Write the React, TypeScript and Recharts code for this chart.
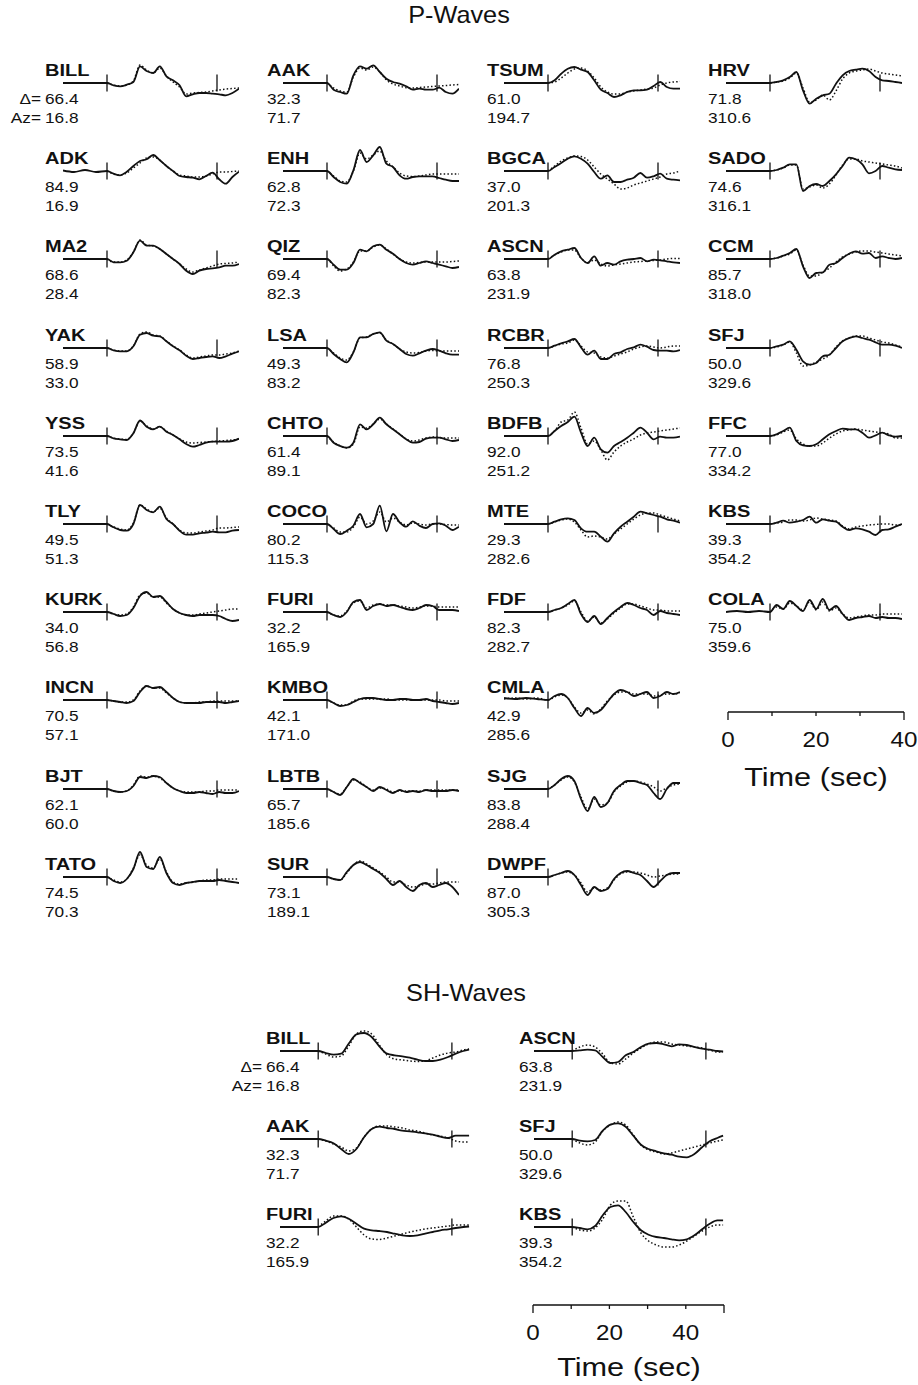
import { LineChart, Line, XAxis, YAxis, ReferenceLine } from "recharts";

const FONT = '"Liberation Sans", Arial, Helvetica, sans-serif';
const INK = "#111";
const N = null;

// sample times (s): pre-event samples, then the fitted window
const P_T = [-10, -7.5, -5, -2.5, 0, 1.5, 3, 4.5, 6, 7.5, 9, 10.5, 12, 13.5, 15, 16.5, 18, 19.5, 21, 22.5, 24, 25.5, 27, 28.5, 30];
const SH_T = [-10, -5, 0, 2, 4, 6, 8, 10, 12, 14, 16, 18, 20, 22, 24, 26, 28, 30, 32, 34, 36, 38, 39.5];

// window marks (s)
const P_MARKS = [0, 25];
const SH_MARKS = [0, 35];

// ---- P stations (column by column) ----
const P_NAMES = [
  "BILL", "ADK", "MA2", "YAK", "YSS", "TLY", "KURK", "INCN", "BJT", "TATO",
  "AAK", "ENH", "QIZ", "LSA", "CHTO", "COCO", "FURI", "KMBO", "LBTB", "SUR",
  "TSUM", "BGCA", "ASCN", "RCBR", "BDFB", "MTE", "FDF", "CMLA", "SJG", "DWPF",
  "HRV", "SADO", "CCM", "SFJ", "FFC", "KBS", "COLA",
];
const P_DIST = [
  66.4, 84.9, 68.6, 58.9, 73.5, 49.5, 34.0, 70.5, 62.1, 74.5,
  32.3, 62.8, 69.4, 49.3, 61.4, 80.2, 32.2, 42.1, 65.7, 73.1,
  61.0, 37.0, 63.8, 76.8, 92.0, 29.3, 82.3, 42.9, 83.8, 87.0,
  71.8, 74.6, 85.7, 50.0, 77.0, 39.3, 75.0,
];
const P_AZ = [
  16.8, 16.9, 28.4, 33.0, 41.6, 51.3, 56.8, 57.1, 60.0, 70.3,
  71.7, 72.3, 82.3, 83.2, 89.1, 115.3, 165.9, 171.0, 185.6, 189.1,
  194.7, 201.3, 231.9, 250.3, 251.2, 282.6, 282.7, 285.6, 288.4, 305.3,
  310.6, 316.1, 318.0, 329.6, 334.2, 354.2, 359.6,
];

// observed (solid) and synthetic (dotted) P traces
const pBILL = [0, 0, 0, 0, 0, -2.3, -3.3, -1.7, 1, 16.7, 12, 10, 16.7, 6.7, 2.7, -2.3, -13.3, -11.3, -10, -10, -10.7, -11.3, -12.3, -10, -5.7];
const sBILL = [N, N, N, N, 0, -2, -3, -2, 2, 18, 13, 10, 15, 7, 1, -4, -11, -10, -9.5, -9, -8, -7, -6, -5.5, -5];
const pADK = [0.5, -1, 1, -1, 0, -2.7, -4.3, -0.7, 5, 10, 11.7, 16, 10.7, 5, 0, -5, -6, -6.7, -8.3, -5, -1.7, -8.3, -12.7, -6, -0.7];
const sADK = [N, N, N, N, 0, -3, -4, -2, 3, 8, 13, 14, 11, 5, 0, -4, -5, -6, -6, -5, -3, -1, -1, -0.5, 0];
const pMA2 = [0, 0, 0, 0, 0, -3.3, -3.3, -1.7, 6.7, 18.3, 13.3, 13.3, 10, 5, 0, -5, -11.7, -15, -11.7, -10, -9.3, -8.3, -6.7, -6.7, -5];
const sMA2 = [N, N, N, N, 0, -3, -3, -1, 7, 19, 14, 13, 10, 5, 0, -5, -10, -13, -11, -9, -7, -5, -4.5, -4, -3];
const pYAK = [0, 0, 0, 0, 0, -2.3, -3.3, -3.3, 1.7, 13.3, 15, 12.3, 11.7, 6.7, 1.7, -2.3, -7.7, -11, -10, -9, -8.3, -10, -8.3, -5.7, -3.3];
const sYAK = [N, N, N, N, 0, -2, -3, -3, 2, 14, 16, 13, 12, 7, 2, -2, -7, -10, -9, -8, -7, -7, -6, -5, -3];
const pYSS = [0, 0, 0, 0, 0, -2.3, -3.3, -4, 2.7, 15.5, 9.3, 6.7, 9.3, 4.3, 1, -3.3, -8, -10.7, -9, -6.7, -5.7, -5.7, -5.7, -5, -2.7];
const sYSS = [N, N, N, N, 0, -2, -3, -3.5, 3, 15, 10, 7, 9, 5, 1, -3, -6, -7, -6.5, -6, -5.5, -5, -4.5, -4, -3];
const pTLY = [0, 0, 0, 0, 0, -3.3, -6, -6.7, 0, 19, 14, 11.7, 17.3, 5, 0, -6.7, -10.7, -10.7, -9.3, -8.7, -7.7, -8.3, -8.3, -6.7, -6];
const sTLY = [N, N, N, N, 0, -3, -5, -6, 1, 19, 15, 12, 16, 6, 0, -6, -9, -9, -8, -7, -6, -4, -4, -3.5, -3];
const pKURK = [0, 0, 0, 0, 0, -2, -4, -3, 4, 16, 20, 15, 16, 10, 3, -1, -3, -4, -3, -3, -3, -4, -7, -9, -8];
const sKURK = [N, N, N, N, 0, -2, -3, -2, 5, 17, 19, 15, 15, 9, 3, -1, -3, -3, -2, -1, 0, 1, 2, 3, 3];
const pINCN = [0, 0, 0, 0, 0, -1, -2, -3, -1, 8, 14, 12, 13, 8, 2, -2, -3, -3, -3, -2, -2, -2, -3, -2, -1];
const sINCN = [N, N, N, N, 0, -1, -2, -2, 0, 9, 14, 12, 12, 7, 2, -2, -3, -3, -2, -2, -1, -1, -1, -1, -1];
const pBJT = [0, 0, 0, 0, 0, -2, -3, -2, 3, 12, 11, 13, 12, 6, 1, -2, -4, -4, -3, -4, -5, -3, -4, -4, -2];
const sBJT = [N, N, N, N, 0, -2, -3, -2, 4, 13, 12, 13, 11, 6, 1, -2, -3, -3, -3, -2, -2, -1, -1, -1, -1];
const pTATO = [0, 0, 0, 0, 0, -4, -6, -2, 8, 25, 10, 8, 20, 4, -6, -8, -6, -5, -4, -4, -4, -3, -4, -5, -6];
const sTATO = [N, N, N, N, 0, -3, -5, -2, 9, 22, 12, 9, 18, 5, -5, -7, -6, -5, -4, -3, -3, -2, -2, -2, -2];

const pAAK = [0, 0, 0, 0, 0, -6.7, -9, -10.7, 7.7, 16.7, 14.3, 17.7, 11, 4.3, 1, -0.7, -3.3, -6.7, -5.7, -6.7, -6.7, -4.7, -9, -10.7, -5.7];
const sAAK = [N, N, N, N, 0, -5, -8, -9, 6, 15, 13, 16, 11, 3, -1, -3, -4.7, -5, -4.5, -4, -3.5, -3, -2.5, -2, -1.5];
const pENH = [0, 0, 0, 0, 0, -6, -11, -12.7, 0.7, 21, 9, 15.7, 24, 7.3, 4, -4.3, -7.7, -6, -5.3, -5.3, -5.3, -7, -8.7, -10, -10];
const sENH = [N, N, N, N, 0, -5, -10, -11, 0, 18, 12, 16, 20, 10, 4, -2, -5, -5.5, -5, -4, -3, -3, -3, -3, -3];
const pQIZ = [0, 0, 0, 0, 0, -5.7, -10.7, -10.7, -4, 9.3, 7.7, 12.7, 14.3, 9.3, 5.3, 0, -4, -5.7, -4, -2.3, -4, -5.7, -7.3, -9, -8];
const sQIZ = [0, 0, 0, 0, 0, -7, -12, -10, -3, 8, 8, 12, 14, 10, 5, 0, -3, -4, -3.5, -3, -3, -3, -3, -2.5, -2];
const pLSA = [0, 0, 0, 0, 0, -6, -11, -14.3, -4.3, 10.7, 10.7, 14, 15.7, 7.3, 4, -1, -6, -7.7, -5.3, -2.7, -1, -2.7, -5.3, -6.7, -6.7];
const sLSA = [N, N, N, N, 0, -5, -10, -12, -4, 10, 11, 14, 15, 8, 4, -1, -4, -5, -4.5, -3, -2.5, -3, -3, -3, -3];
const pCHTO = [0, 0, 0, 0, 0, -6.7, -10, -11.7, -6.7, 11.7, 6.7, 11.7, 18.3, 11.7, 6.7, 1.7, -3.3, -6.7, -6, -2.7, -1.7, -1.7, -3.3, -5, -4];
const sCHTO = [N, N, N, N, 0, -6, -10, -12, -8, 9, 8, 12, 17, 12, 7, 2, -3, -5, -4, -2, -1, -1.5, -2, -2, -2];
const pCOCO = [0, 0, 0, 0, 0, -5, -10, -6.7, -1.7, 10, -3.3, 0, 18.3, -7.3, 10, 1.7, -2.7, 2.7, -1.7, -4, 0, 0.7, -1.7, -6, -2.7];
const sCOCO = [N, N, N, N, 0, -4, -8, -8, -3, 7, 0, 3, 12, 2, 6, 2, -1, 1, 0, -1, 0, 0, -0.5, -1, -1];
const pFURI = [0, 0, 0, 0, 0, -3, -5, 0, 10, 12, 2, 6, 8, 6, 7, 5, 3, 2, 4, 7, 6, 2, 2, 2, 1];
const sFURI = [N, N, N, N, 0, -3, -4, 1, 9, 11, 4, 7, 8, 7, 7, 6, 5, 4, 5, 6, 6, 5, 5, 5, 5];
const pKMBO = [0, 0, 0, 0, 0, -3, -6, -5, -2, 1, 2, 2, 1, 0, 0, 1, 1, 0, 0, 1, -1, -2, -3, -4, -3];
const sKMBO = [N, N, N, N, 0, -3, -5, -5, -1, 1, 1, 1, 1, 1, 0, 0, 0, 0, 0, 0, 0, 0, -1, -1, -1];
const pLBTB = [0, 0, 0, 0, 0, -3, -6, 2, 10, 6, 2, -2, 2, -1, -4, -1, -3, -2, -3, -1, -2, -2, -2, -1, -2];
const sLBTB = [N, N, N, N, 0, -3, -5, 2, 9, 7, 2, -1, 1, 0, -3, -2, -2, -2, -2, -1, -1, -1, -1, -1, -1];
const pSUR = [0, 0, 0, 0, 0, -2, -3, 5, 12, 15, 12, 8, 4, -2, -8, -4, -10, -14, -8, -6, -10, -8, -6, -10, -18];
const sSUR = [N, N, N, N, 0, -2, -3, 4, 12, 16, 13, 9, 5, 0, -5, -5, -8, -10, -9, -7, -7, -6, -5, -5, -5];

const pTSUM = [0, 0, 0, 0, 0, 2.7, 9.3, 14.3, 16, 13.3, 11, 2.7, -6.7, -10, -14, -12.3, -9, -7.3, -7.3, -6.7, -3, 1, -4, -5.7, -5.7];
const sTSUM = [N, N, N, N, 0, 1, 5, 10, 14, 15, 12, 5, -4, -9, -11, -11, -9, -8, -7, -6, -5, -2, 0, 1, 1.5];
const pBGCA = [0, 0, 0, 0, 0, 4, 8, 12.3, 14.7, 12.3, 7.3, -1, -7.7, -4.3, -11, -11, -8.7, -6.7, -2, -6.7, -5.3, -2.7, -7.7, -8.7, -9.3];
const sBGCA = [N, N, N, N, 0, 5, 10, 13, 15, 14.5, 11, 4, -3, -8, -13, -18, -17, -14, -12, -10, -8, -6, -3, -2, 0];
const pASCN = [0, 0, 0, 0, 0, 4.3, 7.7, 9.3, 11, 1, -4, 2.7, -6.7, -4, -5.7, -2.3, -0.7, 0, 1, -2.3, -0.7, -1.3, -2.3, -3.3, -4];
const sASCN = [N, N, N, N, 0, 4, 7, 9, 9, 1, -4, -1, -5, -7, -6, -5, -4, -3, -2.5, -2, -1.5, -1, 0, 0.5, 0.5];
const pRCBR = [0, 0, 0, 0, 0, 2.3, 4.7, 6.7, 9, 0.7, -6.7, -2.7, -11, -11, -6, -4.3, -1, 0.7, 3.3, 1.3, -2, -2.7, -2.7, -3.3, -2];
const sRCBR = [N, N, N, N, 0, 2, 4, 5, 8, 2, -4, -5, -9, -10, -8, -6, -4, -1, 1, 2, 1, 0, 1, 2, 2];
const pBDFB = [0, 0, 0, 0, 0, 5, 10, 14, 19.3, 3.3, -10, -1.7, -13.3, -16.7, -10, -6, -1.7, 3.3, 8.3, 3.3, -3.3, -0.7, -1.7, -1.7, -0.7];
const sBDFB = [N, N, N, N, 0, 5, 14, 16, 24, 8, -8, -5, -14, -24, -16, -10, -6, -3, 1, 3, 4, 5, 6, 7, 8];
const pMTE = [0, 0, 0, 0, 0, 2.3, 4.7, 5.7, 4, -4.3, -7.7, -7.7, -12.7, -17.7, -9.3, -2.7, 2.3, 7.3, 12.3, 10.7, 9, 7.3, 4.7, 3.3, 1.3];
const sMTE = [N, N, N, N, 0, 2, 4, 5, 2, -6, -13, -12, -13, -15, -10, -5, 0, 5, 9, 11, 11, 9, 7, 5, 3];
const pFDF = [0, 0, 0, 0, 0, 2, 4, 8, 12, -2, -10, -4, -12, -6, 0, 5, 9, 7, 4, 2, -3, 1, -1, -2, -3];
const sFDF = [N, N, N, N, 0, 2, 4, 7, 11, 0, -9, -5, -11, -7, -1, 4, 8, 8, 6, 4, 2, 2, 1, 1, 1];
const pCMLA = [2, 1, 2, 1, 0, 4, 6, 2, -8, -16, -8, -13, -10, -2, 6, 10, 8, 4, 6, 8, 2, 4, 8, 6, 8];
const sCMLA = [1, 2, 1, 2, 0, 3, 5, 2, -7, -13, -10, -14, -9, -1, 5, 8, 8, 6, 6, 6, 4, 5, 6, 6, 7];
const pSJG = [0, 0, 0, 0, 0, 4, 10, 13, 8, -10, -22, -8, -18, -14, -2, 4, 8, 8, 6, 4, -4, -10, 0, 6, 6];
const sSJG = [N, N, N, N, 0, 4, 9, 12, 7, -8, -20, -10, -16, -14, -3, 3, 7, 8, 7, 5, 2, -2, 1, 4, 5];
const pDWPF = [0, 0, 0, 0, 0, 2, 4, 6, 2, -8, -18, -10, -14, -12, -2, 4, 6, 4, 2, -4, -10, -4, 2, 4, 4];
const sDWPF = [N, N, N, N, 0, 2, 4, 5, 2, -6, -15, -11, -13, -11, -3, 3, 5, 5, 4, 2, 0, 1, 2, 3, 3];

const pHRV = [0, 0, 0, 0, 0, 1, 2.7, 6, 11, -7.3, -20.7, -15.7, -12.3, -10.7, -0.7, 7.7, 12, 13.3, 14.3, 12, 6, 2.7, 2, 1, 0];
const sHRV = [0, 0, 0, 0, 0, 1, 2, 5, 10, -5, -19, -17, -12, -17, -8, 4, 10, 12, 13, 14, 12, 10, 9, 8, 7];
const pSADO = [0, 0, 0, 0, 0, 1, 3.3, 6.7, 6.7, -20, -15, -13, -15, -10, -3.3, 5, 13.3, 11.7, 6.7, -2.3, 0, 5, 3.3, 1.7, 1];
const sSADO = [N, N, N, N, 0, 1, 3, 6, 6, -18, -16, -14, -17, -13, -4, 6, 12, 12, 10, 9, 8, 7, 6, 5, 3];
const pCCM = [0, 0, 0, 0, 0, 1, 3.3, 6, 10, -7.3, -19, -14, -13.3, -5.7, -4, 1, 5.3, 7.7, 5.3, 6, 1, 2.7, 1, 0, 1];
const sCCM = [N, N, N, N, 0, 1, 3, 5, 9, -6, -17, -17, -13, -9, -3, 2, 5, 7, 8, 8, 7, 6, 5, 4, 3];
const pSFJ = [0, 0, 0, 0, 0, 1.7, 3.3, 6.7, -1.7, -13.3, -16.7, -15, -8.3, -6.7, 0, 6.7, 10, 11.7, 10, 8.3, 5.7, 3.3, 3.3, 2.3, 0];
const sSFJ = [N, N, N, N, 0, 1, 3, 6, -5, -18, -17, -14, -11, -7, 1, 7, 10, 12, 12, 10, 8, 6, 5, 3, 1];
const pFFC = [0, 0, 0, 0, 0, 1.7, 5, 8.3, -5, -9.3, -10, -8.3, -3.3, 1.7, 5, 7.3, 6.7, 6.7, 3.3, -1.7, 0.7, 3.3, 0.7, -0.7, 0];
const sFFC = [N, N, N, N, 0, 1, 4, 6, -3, -8, -10, -10, -7, -2, 2, 5, 6, 7, 6, 5, 4, 3, 2, -2, -2];
const pKBS = [0, 0, 0, 0, 0, 1.3, 3.3, 1.3, 2.3, 4, 7.3, 1.3, 4.7, 3.3, 2.3, -2.7, -6, -4.3, -5.3, -7.7, -11, -6, -5.3, -2.7, 0];
const sKBS = [N, N, N, N, 0, 1, 2, 4, 4, 3, 4, 6, 5, 4, 3, -2, -5, -3, -2, -1, -0.5, 0, 0, -1, -1];
const pCOLA = [0, 1, 0, 1, 0, 7, 3, 11, 6, 1, 12, 3, 13, 2, 6, -2, -8, -6, -5, -4, -6, -5, -6, -6, -7];
const sCOLA = [N, N, N, N, 0, 5, 3, 9, 6, 2, 10, 2, 10, 1, 4, -2, -6, -5, -4, -3, -3, -2, -2, -2, -2];

const P_OBS = [
  pBILL, pADK, pMA2, pYAK, pYSS, pTLY, pKURK, pINCN, pBJT, pTATO,
  pAAK, pENH, pQIZ, pLSA, pCHTO, pCOCO, pFURI, pKMBO, pLBTB, pSUR,
  pTSUM, pBGCA, pASCN, pRCBR, pBDFB, pMTE, pFDF, pCMLA, pSJG, pDWPF,
  pHRV, pSADO, pCCM, pSFJ, pFFC, pKBS, pCOLA,
];
const P_SYN = [
  sBILL, sADK, sMA2, sYAK, sYSS, sTLY, sKURK, sINCN, sBJT, sTATO,
  sAAK, sENH, sQIZ, sLSA, sCHTO, sCOCO, sFURI, sKMBO, sLBTB, sSUR,
  sTSUM, sBGCA, sASCN, sRCBR, sBDFB, sMTE, sFDF, sCMLA, sSJG, sDWPF,
  sHRV, sSADO, sCCM, sSFJ, sFFC, sKBS, sCOLA,
];

// ---- SH stations ----
const SH_NAMES = ["BILL", "AAK", "FURI", "ASCN", "SFJ", "KBS"];
const SH_DIST = [66.4, 32.3, 32.2, 63.8, 50.0, 39.3];
const SH_AZ = [16.8, 71.7, 165.9, 231.9, 329.6, 354.2];

const hBILL = [0, 0, 0, -2, -3.7, -2.7, 7.5, 16.7, 18, 14, 4.7, -2.7, -4.3, -5.3, -6.7, -8.7, -10, -10, -8.7, -6, -2.7, 0, 1.3];
const hsBILL = [N, N, 0, -3, -6, -5, 5, 17, 20, 17, 6, -4, -8, -9, -10, -10.5, -10, -7, -4, -2, -1, 1, 2];
const hAAK = [0, 0, 0, -1.7, -4.3, -10, -15, -10, 1.7, 10, 12.3, 11, 10, 8.3, 7.7, 6.7, 5.7, 4.3, 2.3, 1, 3.3, 3.3, 3.3];
const hsAAK = [N, N, 0, -2, -5, -8, -12, -9, 2, 10, 13, 13, 12, 11, 9, 8, 6, 4, 3, 1, -2, -3, -3];
const hFURI = [0, 0, 0, 4.3, 9, 10.7, 8.3, 3.3, -1.7, -3.3, -4, -5, -6.7, -8.3, -9, -8.3, -6.7, -5, -3.3, -2.3, -1, 0, 0.5];
const hsFURI = [N, N, 0, 6, 11, 11, 8, 0, -8, -12, -12.5, -11, -9, -7, -5, -3.5, -2, -1, 0, 1, 2, 2, 2];
const hASCN = [0, 0, 0, 0.7, 1.3, 0.7, -6, -12, -11, -4.3, -1, 4, 7.3, 8, 6.7, 4.7, 6.7, 6, 4, 2.3, 1.3, 0, -0.5];
const hsASCN = [N, N, 0, 4, 6, 4, -3, -12, -13, -8, -2, 3, 7, 9, 9, 7, 6, 5, 4, 3, 1, -1, -1];
const hSFJ = [0, 0, 0, -1.7, -2.3, -1, 8.3, 14.3, 15.7, 12.3, 3.3, -5.7, -10, -12.3, -14.3, -15.7, -17.7, -18.3, -15, -8.3, -2.3, 1, 3.3];
const hsSFJ = [N, N, 0, -4, -6, -3, 8, 14, 17, 14, 4, -6, -11, -13, -15, -14, -12, -10, -8, -6, -4, -2, -1];
const hKBS = [0, 0, 0, -1, -2.3, 1, 11.7, 20, 21.7, 15, 5, -3.3, -7.7, -10, -11, -12.3, -13.3, -12.3, -8.3, -2.3, 3.3, 6.7, 6.7];
const hsKBS = [N, N, 0, -3, -4, -1, 8, 22, 26, 26, 10, -6, -14, -18, -20, -20, -18, -14, -9, -4, 0, 2, 2];

const SH_OBS = [hBILL, hAAK, hFURI, hASCN, hSFJ, hKBS];
const SH_SYN = [hsBILL, hsAAK, hsFURI, hsASCN, hsSFJ, hsKBS];

// ---- layout ----
const P_PPS = 4.4;
const P_MARK_X = [107, 327, 548, 770];
const P_LABEL_X = [45, 267, 487, 708];
const P_ROW_Y = [83, 171, 259, 348, 436, 524, 612, 700, 789, 877];

const SH_PPS = 3.82;
const SH_MARK_X = [318, 572];
const SH_LABEL_X = [266, 519];
const SH_ROW_Y = [1051, 1139, 1227];

const NAME_SX = 1.25;
const NUM_SX = 1.15;

type Val = number | null;

function Trace({ times, obs, syn, x0, y0, pps, domain, marks }: {
  times: number[]; obs: Val[]; syn: Val[]; x0: number; y0: number; pps: number;
  domain: [number, number]; marks: number[];
}) {
  const H = 70;
  const data = times.map((t, i) => ({ t, obs: obs[i], syn: syn[i] }));
  const width = (domain[1] - domain[0]) * pps;
  return (
    <div style={{ position: "absolute", left: x0 + domain[0] * pps, top: y0 - H / 2 }}>
      <LineChart width={width} height={H} data={data} margin={{ top: 0, right: 0, bottom: 0, left: 0 }}>
        <XAxis dataKey="t" type="number" domain={domain} hide allowDataOverflow />
        <YAxis type="number" domain={[-H / 2, H / 2]} hide allowDataOverflow />
        {marks.map((m) => (
          <ReferenceLine key={m} segment={[{ x: m, y: -8.5 }, { x: m, y: 8.5 }]} stroke={INK} strokeWidth={1.3} />
        ))}
        <Line dataKey="syn" type="monotone" stroke={INK} strokeWidth={1.5} strokeDasharray="1.5 2.2" dot={false} isAnimationActive={false} />
        <Line dataKey="obs" type="monotone" stroke={INK} strokeWidth={1.8} dot={false} isAnimationActive={false} />
      </LineChart>
    </div>
  );
}

function Label({ name, dist, az, x, y, prefix }: { name: string; dist: number; az: number; x: number; y: number; prefix?: boolean }) {
  return (
    <g fill={INK}>
      <text transform={`translate(${x},${y - 7}) scale(${NAME_SX},1)`} fontSize={16} fontWeight="bold">{name}</text>
      <text transform={`translate(${x},${y + 21}) scale(${NUM_SX},1)`} fontSize={15}>{dist.toFixed(1)}</text>
      <text transform={`translate(${x},${y + 40}) scale(${NUM_SX},1)`} fontSize={15}>{az.toFixed(1)}</text>
      {prefix && (
        <>
          <text transform={`translate(${x - 4},${y + 21}) scale(${NUM_SX},1)`} fontSize={15} textAnchor="end">Δ=</text>
          <text transform={`translate(${x - 4},${y + 40}) scale(${NUM_SX},1)`} fontSize={15} textAnchor="end">Az=</text>
        </>
      )}
    </g>
  );
}

function ScaleBar({ x0, y0, pps, max, ticks, labels }: {
  x0: number; y0: number; pps: number; max: number; ticks: number[]; labels: number[];
}) {
  const pad = 20;
  const data = [{ t: 0, v: 0 }, { t: max, v: 0 }];
  const renderTick = (p: any) => {
    const v = p.payload.value;
    const end = v === 0 || v === max;
    return (
      <g>
        <line x1={p.x} x2={p.x} y1={p.y} y2={p.y + (end ? 8 : 4)} stroke={INK} strokeWidth={1.3} />
        {labels.includes(v) && (
          <text transform={`translate(${p.x},${p.y + 35}) scale(1.1,1)`} textAnchor="middle" fontSize={22} fill={INK}>{v}</text>
        )}
      </g>
    );
  };
  return (
    <div style={{ position: "absolute", left: x0 - pad, top: y0 - 2 }}>
      <LineChart width={max * pps + 2 * pad} height={50} data={data} margin={{ top: 0, right: pad, bottom: 0, left: pad }}>
        <XAxis dataKey="t" type="number" domain={[0, max]} ticks={ticks} interval={0} height={48}
          tickSize={0} tickMargin={0} tickLine={false} axisLine={{ stroke: INK, strokeWidth: 1.5 }} tick={renderTick} />
        <YAxis hide domain={[0, 1]} />
        <Line dataKey="v" stroke="none" dot={false} isAnimationActive={false} />
      </LineChart>
    </div>
  );
}

export default function App() {
  return (
    <div style={{ position: "absolute", left: 0, top: 0, width: 918, height: 1385, background: "#fff", fontFamily: FONT }}>
      <svg width={918} height={1385} style={{ position: "absolute", left: 0, top: 0, fontFamily: FONT }}>
        <text transform="translate(459,23) scale(1.1,1)" textAnchor="middle" fontSize={23} fill={INK}>P-Waves</text>
        <text transform="translate(466,1001) scale(1.1,1)" textAnchor="middle" fontSize={23} fill={INK}>SH-Waves</text>
        {P_NAMES.map((n, i) => (
          <Label key={"p" + n} name={n} dist={P_DIST[i]} az={P_AZ[i]}
            x={P_LABEL_X[Math.floor(i / 10)]} y={P_ROW_Y[i % 10]} prefix={i === 0} />
        ))}
        {SH_NAMES.map((n, i) => (
          <Label key={"s" + n} name={n} dist={SH_DIST[i]} az={SH_AZ[i]}
            x={SH_LABEL_X[Math.floor(i / 3)]} y={SH_ROW_Y[i % 3]} prefix={i === 0} />
        ))}
        <text transform="translate(816,786) scale(1.18,1)" textAnchor="middle" fontSize={26} fill={INK}>Time (sec)</text>
        <text transform="translate(629,1376) scale(1.18,1)" textAnchor="middle" fontSize={26} fill={INK}>Time (sec)</text>
      </svg>
      {P_NAMES.map((n, i) => (
        <Trace key={"pt" + n} times={P_T} obs={P_OBS[i]} syn={P_SYN[i]}
          x0={P_MARK_X[Math.floor(i / 10)]} y0={P_ROW_Y[i % 10]} pps={P_PPS} domain={[-10, 30]} marks={P_MARKS} />
      ))}
      {SH_NAMES.map((n, i) => (
        <Trace key={"st" + n} times={SH_T} obs={SH_OBS[i]} syn={SH_SYN[i]}
          x0={SH_MARK_X[Math.floor(i / 3)]} y0={SH_ROW_Y[i % 3]} pps={SH_PPS} domain={[-10, 40]} marks={SH_MARKS} />
      ))}
      <ScaleBar x0={728} y0={712} pps={P_PPS} max={40} ticks={[0, 10, 20, 30, 40]} labels={[0, 20, 40]} />
      <ScaleBar x0={533} y0={1305} pps={SH_PPS} max={50} ticks={[0, 10, 20, 30, 40, 50]} labels={[0, 20, 40]} />
    </div>
  );
}
